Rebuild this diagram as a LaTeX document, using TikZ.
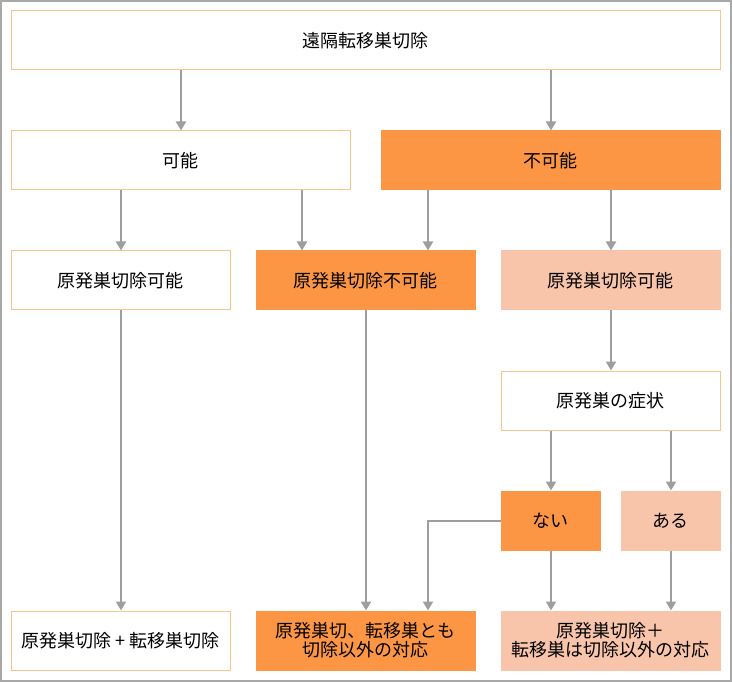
\documentclass[tikz,border=0pt]{standalone}
\usepackage{fontspec}
\setmainfont{Noto Sans CJK JP}
\usetikzlibrary{arrows.meta}
\definecolor{bordero}{HTML}{F9C48A}
\definecolor{orangef}{HTML}{FD9644}
\definecolor{lightf}{HTML}{F8C5AA}
\definecolor{arrowg}{HTML}{9E9E9E}
\definecolor{frameg}{HTML}{A8A8A8}
\tikzset{
  box/.style={draw=bordero, line width=1pt, fill=white, font=\fontsize{18}{21}\selectfont, align=center, inner sep=0pt},
  obox/.style={box, draw=orangef, fill=orangef},
  lbox/.style={box, draw=lightf, fill=lightf},
  arr/.style={draw=arrowg, line width=2pt, -{Triangle[length=9pt,width=10pt]}},
  ln/.style={draw=arrowg, line width=2pt}
}
\newcommand{\bx}[7]{\node[#1, minimum width=#4pt, minimum height=#5pt] (#2) at (#6,#7) {#3};}
\begin{document}
\begin{tikzpicture}[x=1pt,y=-1pt]
\useasboundingbox (0,0) rectangle (732,682);
\draw[frameg, line width=2pt] (1,1) rectangle (731,681);
% nodes: style, name, text, w, h, cx, cy
\bx{box}{top}{遠隔転移巣切除}{709}{59}{365.5}{40.5}
\bx{box}{kano}{可能}{339}{59}{180.5}{160.5}
\bx{obox}{fukano}{不可能}{339}{59}{550.5}{160.5}
\bx{box}{r3a}{原発巣切除可能}{219}{59}{120.5}{280.5}
\bx{obox}{r3b}{原発巣切除不可能}{219}{59}{365.5}{280.5}
\bx{lbox}{r3c}{原発巣切除可能}{219}{59}{610.5}{280.5}
\bx{box}{sympt}{原発巣の症状}{219}{59}{610.5}{400.5}
\bx{obox}{nai}{ない}{99}{59}{550.5}{520.5}
\bx{lbox}{aru}{ある}{99}{59}{670.5}{520.5}
\bx{box}{b1}{原発巣切除 + 転移巣切除}{219}{59}{120.5}{640.5}
\bx{obox}{b2}{原発巣切、転移巣とも\\[-2pt]切除以外の対応}{219}{59}{365.5}{640.5}
\bx{lbox}{b3}{原発巣切除＋\\[-2pt]転移巣は切除以外の対応}{219}{59}{610.5}{640.5}
% connectors
\coordinate (c0) at (181,0);
\coordinate (c1) at (121,0);
\coordinate (c2) at (302,0);
\coordinate (c3) at (428,0);
\coordinate (c4) at (611,0);
\coordinate (c5) at (366,0);
\coordinate (c6) at (551,0);
\coordinate (c7) at (671,0);
\draw[arr] (top.south -| c0) -- (kano.north -| c0);
\draw[arr] (top.south -| c6) -- (fukano.north -| c6);
\draw[arr] (kano.south -| c1) -- (r3a.north -| c1);
\draw[arr] (kano.south -| c2) -- (r3b.north -| c2);
\draw[arr] (fukano.south -| c3) -- (r3b.north -| c3);
\draw[arr] (fukano.south -| c4) -- (r3c.north -| c4);
\draw[arr] (r3a.south -| c1) -- (b1.north -| c1);
\draw[arr] (r3b.south -| c5) -- (b2.north -| c5);
\draw[arr] (r3c.south -| c4) -- (sympt.north -| c4);
\draw[arr] (sympt.south -| c6) -- (nai.north -| c6);
\draw[arr] (sympt.south -| c7) -- (aru.north -| c7);
\draw[arr] (nai.south -| c6) -- (b3.north -| c6);
\draw[arr] (aru.south -| c7) -- (b3.north -| c7);
\draw[arr] (nai.west) -| (b2.north -| c3);
\end{tikzpicture}
\end{document}
